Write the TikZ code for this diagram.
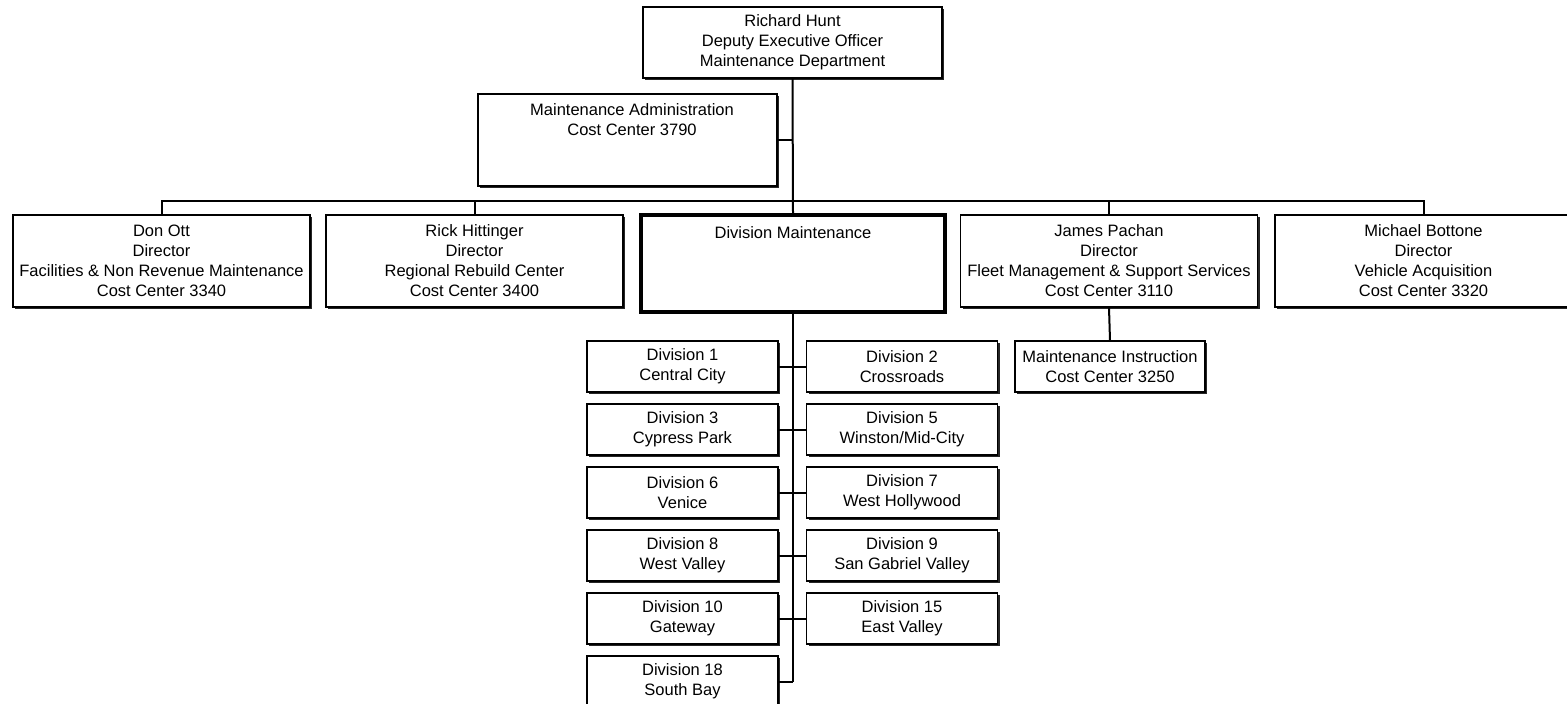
\documentclass[tikz,border=0pt]{standalone}
\usepackage{fontspec}
\setmainfont{Liberation Sans}
\usetikzlibrary{shadows}

\begin{document}
\begin{tikzpicture}[x=1pt, y=-1pt,
  box/.style={draw, rectangle, line width=1.4pt, fill=white, align=center, inner sep=0pt,
    font=\fontsize{16.5}{20}\selectfont,
    drop shadow={shadow xshift=2pt, shadow yshift=-2pt, fill=black!85, opacity=1}},
  head/.style={box, minimum width=297, minimum height=92},
  div/.style={box, minimum width=191, minimum height=51},
  txt/.style={align=center, inner sep=0pt, font=\fontsize{16.5}{20}\selectfont},
  link/.style={line width=2pt}]

\useasboundingbox (0,0) rectangle (1567,704);

% Define the nodes with coordinates
\node[box, minimum width=299, minimum height=71] (RH) at (792.5,42.5) {Richard Hunt\\Deputy Executive Officer\\Maintenance Department};
\node[box, minimum width=299, minimum height=92] (MA) at (627.5,140) {};
\node[txt] (MAt) at (632,120) {Maintenance Administration\\Cost Center 3790};
\node[head] (DO) at (161.5,261) {Don Ott\\Director\\Facilities \& Non Revenue Maintenance\\Cost Center 3340};
\node[head] (RHT) at (474.5,261) {Rick Hittinger\\Director\\Regional Rebuild Center\\Cost Center 3400};
\node[box, minimum width=304, minimum height=97, line width=3.2pt] (DM) at (793,263.5) {};
\node[txt] (DMt) at (793,233) {Division Maintenance};
\node[head] (JP) at (1109,261) {James Pachan\\Director\\Fleet Management \& Support Services\\Cost Center 3110};
\node[head] (MB) at (1423.5,261) {Michael Bottone\\Director\\Vehicle Acquisition\\Cost Center 3320};
\node[box, minimum width=190, minimum height=51] (MI) at (1110,366.5) {Maintenance Instruction\\Cost Center 3250};

\node[div] (D1) at (682.5,366.5) {Division 1\\Central City};
\node[div] (D2) at (902,366.5) {Division 2\\Crossroads};
\node[div] (D3) at (682.5,429.5) {Division 3\\Cypress Park};
\node[div] (D5) at (902,429.5) {Division 5\\Winston/Mid-City};
\node[div] (D6) at (682.5,492.5) {Division 6\\Venice};
\node[div] (D7) at (902,492.5) {Division 7\\West Hollywood};
\node[div] (D8) at (682.5,555.5) {Division 8\\West Valley};
\node[div] (D9) at (902,555.5) {Division 9\\San Gabriel Valley};
\node[div] (D10) at (682.5,618.5) {Division 10\\Gateway};
\node[div] (D15) at (902,618.5) {Division 15\\East Valley};
\node[div] (D18) at (682.5,681.5) {Division 18\\South Bay};

\coordinate (bar) at (793,201);

% Draw the lines
\draw[link] (RH.south) -- (DM.north);
\draw[link] (MA.east) -- (MA.east -| RH.south);
\draw[link] (DO.north) |- (bar) -| (MB.north);
\draw[link] (RHT.north) -- (RHT.north |- bar);
\draw[link] (JP.north) -- (JP.north |- bar);
\draw[link] (DM.south) -- (DM.south |- D18.east);
\draw[link] (D1.east) -- (D2.west);
\draw[link] (D3.east) -- (D5.west);
\draw[link] (D6.east) -- (D7.west);
\draw[link] (D8.east) -- (D9.west);
\draw[link] (D10.east) -- (D15.west);
\draw[link] (D18.east) -- (D18.east -| DM.south);
\draw[link] (JP.south) -- (MI.north);

\end{tikzpicture}
\end{document}
